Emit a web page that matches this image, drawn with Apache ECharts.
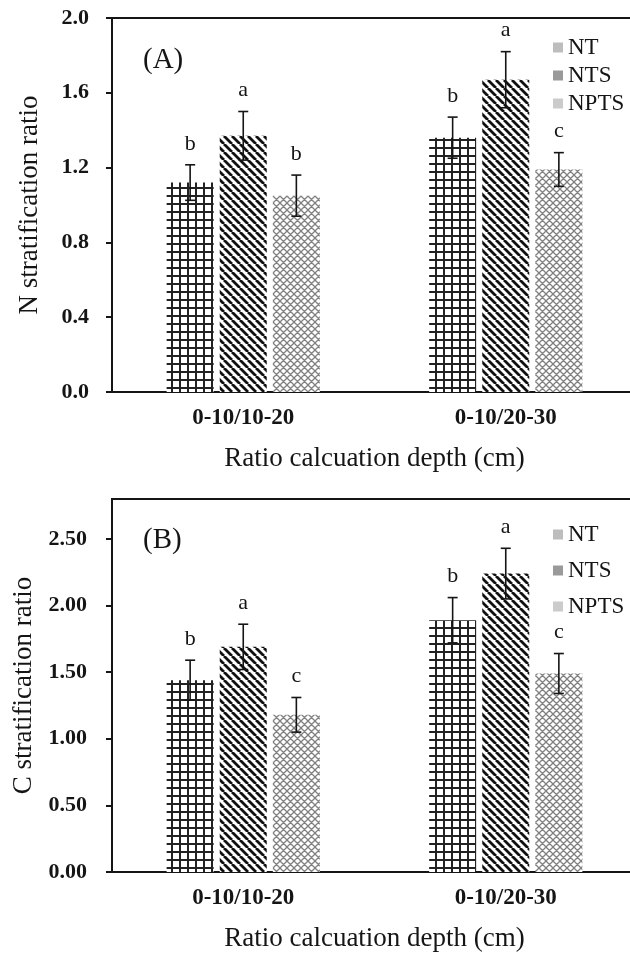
<!DOCTYPE html>
<html>
<head>
<meta charset="utf-8">
<script src="https://cdn.jsdelivr.net/npm/echarts@6/dist/echarts.min.js"></script>
<style>
    html, body { margin: 0; padding: 0; background: #fff; }
    #chart { width: 630px; height: 955px; }
</style>
</head>
<body>
<div id="chart"></div>
<script>
// categories and treatments
var categories = ['0-10/10-20', '0-10/20-30'];
var treatments = ['NT', 'NTS', 'NPTS'];

// (A) N stratification ratio
var ntA = [1.12, 1.36];
var ntsA = [1.37, 1.67];
var nptsA = [1.05, 1.19];
var ntErrA = [0.095, 0.11];
var ntsErrA = [0.13, 0.15];
var nptsErrA = [0.11, 0.09];
var ntLetA = ['b', 'b'];
var ntsLetA = ['a', 'a'];
var nptsLetA = ['b', 'c'];

// (B) C stratification ratio
var ntB = [1.44, 1.89];
var ntsB = [1.69, 2.24];
var nptsB = [1.18, 1.49];
var ntErrB = [0.15, 0.17];
var ntsErrB = [0.17, 0.19];
var nptsErrB = [0.13, 0.15];
var ntLetB = ['b', 'b'];
var ntsLetB = ['a', 'a'];
var nptsLetB = ['c', 'c'];

// y axis ticks
var ticksA = [0, 0.4, 0.8, 1.2, 1.6, 2.0];
var ticksB = [0, 0.5, 1.0, 1.5, 2.0, 2.5];

var serif = '"Liberation Serif", "Times New Roman", serif';
var ink = '#151515';
var barW = 47;
var gapPct = 13;
var step = barW * (1 + gapPct / 100);

// hatch fills
function tile(size, draw) {
    var c = document.createElement('canvas');
    c.width = size; c.height = size;
    var ctx = c.getContext('2d');
    ctx.fillStyle = '#fff';
    ctx.fillRect(0, 0, size, size);
    draw(ctx, size);
    return { image: c, repeat: 'repeat' };
}
var gridFill = tile(8, function (ctx, s) {
    ctx.strokeStyle = '#222';
    ctx.lineWidth = 2;
    ctx.beginPath();
    ctx.moveTo(4, 0); ctx.lineTo(4, s);
    ctx.moveTo(0, 4); ctx.lineTo(s, 4);
    ctx.stroke();
});
var stripeFill = tile(8, function (ctx, s) {
    ctx.strokeStyle = '#111';
    ctx.lineWidth = 2.8;
    ctx.beginPath();
    [-s, 0, s].forEach(function (k) {
        ctx.moveTo(k, 0); ctx.lineTo(k + s, s);
    });
    ctx.stroke();
});
var diamondFill = tile(7, function (ctx, s) {
    ctx.strokeStyle = '#808080';
    ctx.lineWidth = 1.3;
    ctx.beginPath();
    [-s, 0, s].forEach(function (k) {
        ctx.moveTo(k, 0); ctx.lineTo(k + s, s);
        ctx.moveTo(k + s, 0); ctx.lineTo(k, s);
    });
    ctx.stroke();
});
var fills = [gridFill, stripeFill, diamondFill];
var legendColors = ['#bdbdbd', '#9a9a9a', '#cbcbcb'];

function errRender(offset) {
    return function (params, api) {
        var x = api.coord([api.value(0), 0])[0] + offset;
        var v = api.value(1), e = api.value(2);
        var top = api.coord([api.value(0), v + e])[1];
        var bot = api.coord([api.value(0), v - e])[1];
        var ls = { stroke: ink, lineWidth: 1.6 };
        return {
            type: 'group',
            children: [
                { type: 'line', shape: { x1: x, y1: top, x2: x, y2: bot }, style: ls },
                { type: 'line', shape: { x1: x - 5, y1: top, x2: x + 5, y2: top }, style: ls },
                { type: 'line', shape: { x1: x - 5, y1: bot, x2: x + 5, y2: bot }, style: ls },
                { type: 'text', style: {
                    text: api.value(3), x: x, y: top - 21,
                    align: 'center', verticalAlign: 'middle',
                    fontSize: 22, fontFamily: serif, fill: ink
                } }
            ]
        };
    };
}

function rows(vals, errs, lets) {
    return vals.map(function (v, i) { return [i, v, errs[i], lets[i]]; });
}

var panels = [
    { vals: [ntA, ntsA, nptsA], errs: [ntErrA, ntsErrA, nptsErrA], lets: [ntLetA, ntsLetA, nptsLetA] },
    { vals: [ntB, ntsB, nptsB], errs: [ntErrB, ntsErrB, nptsErrB], lets: [ntLetB, ntsLetB, nptsLetB] }
];

var series = [];
panels.forEach(function (p, gi) {
    treatments.forEach(function (t, ti) {
        series.push({
            name: t,
            type: 'bar',
            xAxisIndex: gi, yAxisIndex: gi,
            barWidth: barW,
            barGap: gapPct + '%',
            itemStyle: { color: fills[ti] },
            data: p.vals[ti]
        });
    });
    treatments.forEach(function (t, ti) {
        series.push({
            name: 'err' + t,
            type: 'custom',
            xAxisIndex: gi, yAxisIndex: gi,
            z: 5,
            renderItem: errRender((ti - 1) * step),
            encode: { x: 0, y: 1 },
            data: rows(p.vals[ti], p.errs[ti], p.lets[ti])
        });
    });
});

function xAxisOf(gi) {
    return {
        type: 'category',
        gridIndex: gi,
        data: categories,
        axisLine: { lineStyle: { color: ink, width: 2 } },
        axisTick: { length: 6, lineStyle: { color: ink, width: 2 } },
        axisLabel: { color: ink, fontSize: 23, fontWeight: 'bold', fontFamily: serif, margin: 15 },
        name: 'Ratio calcuation depth (cm)',
        nameLocation: 'middle',
        nameGap: 53,
        nameTextStyle: { color: ink, fontSize: 27, fontFamily: serif }
    };
}
function yAxisOf(gi, name, max, interval, ticks, digits, margin) {
    return {
        type: 'value',
        gridIndex: gi,
        min: 0, max: max, interval: interval,
        splitLine: { show: false },
        axisLine: { show: true, lineStyle: { color: ink, width: 2 } },
        axisTick: { show: true, length: 6, customValues: ticks, lineStyle: { color: ink, width: 2 } },
        axisLabel: {
            customValues: ticks,
            color: ink, fontSize: 22, fontWeight: 'bold', fontFamily: serif, margin: margin,
            formatter: function (v) { return v.toFixed(digits); }
        },
        name: name,
        nameLocation: 'middle',
        nameGap: 69,
        nameTextStyle: { color: ink, fontSize: 27, fontFamily: serif }
    };
}

function legendOf(top, gap) {
    return {
        orient: 'vertical',
        left: 548, top: top,
        icon: 'rect',
        itemWidth: 10, itemHeight: 10,
        itemGap: gap,
        textStyle: { color: ink, fontSize: 23, fontFamily: serif },
        data: treatments.map(function (t, i) {
            return { name: t, itemStyle: { color: legendColors[i] } };
        })
    };
}

var chart = echarts.init(document.getElementById('chart'));
chart.setOption({
    animation: false,
    backgroundColor: '#fff',
    title: [
        { text: '(A)', left: 138, top: 41, textStyle: { color: ink, fontSize: 29, fontWeight: 'normal', fontFamily: serif } },
        { text: '(B)', left: 138, top: 521, textStyle: { color: ink, fontSize: 29, fontWeight: 'normal', fontFamily: serif } }
    ],
    legend: [legendOf(31, 5), legendOf(518, 13)],
    grid: [
        { left: 112, width: 525, top: 18, height: 374, outerBoundsMode: 'none', show: true, borderColor: ink, borderWidth: 2 },
        { left: 112, width: 525, top: 499, height: 373, outerBoundsMode: 'none', show: true, borderColor: ink, borderWidth: 2 }
    ],
    xAxis: [xAxisOf(0), xAxisOf(1)],
    yAxis: [
        yAxisOf(0, 'N stratification ratio', 2.0, 0.4, ticksA, 1, 23),
        yAxisOf(1, 'C stratification ratio', 2.8, 0.5, ticksB, 2, 25)
    ],
    series: series
});
</script>
</body>
</html>
